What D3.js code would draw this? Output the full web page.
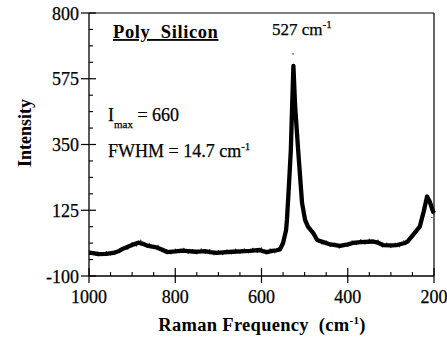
<!DOCTYPE html>
<html>
<head>
<meta charset="utf-8">
<script src="https://cdn.jsdelivr.net/npm/d3@7"></script>
<style>
  html, body { margin: 0; padding: 0; background: #fff; }
</style>
</head>
<body>
<svg id="chart" width="447" height="339"></svg>
<script>
// Raman shift axis (cm^-1), plotted high to low
const xTicks = [1000, 800, 600, 400, 200];
const yTicks = [-100, 125, 350, 575, 800];

// Smoothed spectrum (thick trace)
const fitShift = [1000, 990, 979, 960, 940, 930, 923, 910, 900, 886, 875, 863, 850, 840, 830, 819,
  800, 784, 770, 754, 740, 731, 720, 703, 690, 666, 650, 627, 615, 604, 595, 587, 575, 565, 557,
  550, 543, 541, 536, 532, 529, 526, 522, 515, 510, 506, 499, 492, 480, 471, 457, 440, 418, 400,
  388, 370, 341, 330, 318, 300, 286, 267, 260, 249, 233, 224, 216, 210, 202, 200];
const fitIntensity = [-20, -22, -25, -24, -20, -14, -8, 0, 6, 14, 10, 3, 0, -4, -10, -18,
  -16, -13, -15, -17, -16, -15, -18, -21, -19, -17, -16, -14, -12, -11, -16, -18, -14, -12, -9,
  13, 57, 92, 220, 331, 480, 619, 480, 331, 230, 150, 92, 68, 47, 23, 16, 8, 3, 8,
  13, 16, 18, 14, 6, 5, 6, 13, 20, 40, 69, 120, 172, 155, 120, 115];

// Measured counts (fine points)
const rawShift = [1000, 990, 980, 970, 960, 950, 940, 930, 920, 910, 900, 890, 880, 870, 860, 850,
  840, 830, 820, 810, 800, 790, 780, 770, 760, 750, 740, 730, 720, 710, 700, 690, 680, 670, 660,
  650, 640, 630, 620, 610, 600, 590, 580, 570, 560, 550, 545, 540, 535, 530, 527, 524, 520, 515,
  510, 505, 500, 495, 490, 480, 470, 460, 450, 440, 430, 420, 410, 400, 390, 380, 370, 360, 350,
  340, 330, 320, 310, 300, 290, 280, 270, 260, 250, 240, 230, 220, 215, 210, 205, 200];
const rawIntensity = [-14, -26, -18, -28, -17, -27, -15, -20, -2, -8, 14, 3, 22, 4, 10, -6,
  4, -16, -10, -24, -9, -20, -6, -22, -10, -24, -8, -22, -10, -27, -14, -26, -11, -24, -9,
  -22, -8, -20, -6, -19, -4, -24, -8, -20, -4, 18, 40, 110, 250, 430, 660, 560, 420, 320,
  220, 160, 100, 78, 60, 42, 30, 10, 20, 2, 12, -4, 10, 2, 20, 8, 24, 10, 26,
  12, 22, 0, 12, -2, 12, 0, 20, 14, 44, 52, 80, 150, 160, 140, 100, 110];

const FONT = "'Liberation Serif', 'Times New Roman', Times, serif";

const svg = d3.select("#chart").attr("font-family", FONT);
const margin = { left: 89, top: 13, right: 13, bottom: 63 };
const W = 447 - margin.left - margin.right;
const H = 339 - margin.top - margin.bottom;

const x = d3.scaleLinear().domain([1000, 200]).range([0, W]);
const y = d3.scaleLinear().domain([-100, 800]).range([H, 0]);

// Regular-weight text gets a hairline outline so it reads as solidly as the bold titles
const ink = sel => sel.attr("stroke", "#000").attr("stroke-width", 0.25);

const g = svg.append("g").attr("transform", `translate(${margin.left},${margin.top})`);

// Frame: top and right edges
g.append("line").attr("x1", 0).attr("x2", W).attr("y1", 0).attr("y2", 0)
  .attr("stroke", "#000").attr("stroke-width", 1.2);
g.append("line").attr("x1", W).attr("x2", W).attr("y1", 0).attr("y2", H)
  .attr("stroke", "#000").attr("stroke-width", 1.2);

// Left axis: major ticks cross the line, minor ticks point inward
const yMinor = d3.range(-100, 800.01, 56.25).filter(v => !yTicks.some(t => Math.abs(t - v) < 1e-6));
const yAxis = g.append("g");
yAxis.append("line").attr("x1", 0).attr("x2", 0).attr("y1", 0).attr("y2", H)
  .attr("stroke", "#000").attr("stroke-width", 1.3);
yAxis.selectAll("line.major").data(yTicks).join("line").attr("class", "major")
  .attr("x1", -8).attr("x2", 7).attr("y1", d => y(d)).attr("y2", d => y(d))
  .attr("stroke", "#000").attr("stroke-width", 1.2);
yAxis.selectAll("line.minor").data(yMinor).join("line").attr("class", "minor")
  .attr("x1", 0).attr("x2", 4).attr("y1", d => y(d)).attr("y2", d => y(d))
  .attr("stroke", "#000").attr("stroke-width", 1.1);
yAxis.selectAll("text").data(yTicks).join("text")
  .attr("font-family", FONT)
  .attr("x", -10).attr("y", d => y(d) + 6.5)
  .attr("text-anchor", "end").attr("font-size", 18)
  .call(ink)
  .text(d => d);

// Bottom axis
const xMinor = d3.range(200, 1000.01, 50).filter(v => !xTicks.includes(v));
const xAxis = g.append("g").attr("transform", `translate(0,${H})`);
xAxis.append("line").attr("x1", 0).attr("x2", W).attr("y1", 0).attr("y2", 0)
  .attr("stroke", "#000").attr("stroke-width", 1.3);
xAxis.selectAll("line.major").data(xTicks).join("line").attr("class", "major")
  .attr("x1", d => x(d)).attr("x2", d => x(d)).attr("y1", -8).attr("y2", 7)
  .attr("stroke", "#000").attr("stroke-width", 1.2);
xAxis.selectAll("line.minor").data(xMinor).join("line").attr("class", "minor")
  .attr("x1", d => x(d)).attr("x2", d => x(d)).attr("y1", 0).attr("y2", -4)
  .attr("stroke", "#000").attr("stroke-width", 1.1);
xAxis.selectAll("text").data(xTicks).join("text")
  .attr("font-family", FONT)
  .attr("x", d => x(d)).attr("y", 27)
  .attr("text-anchor", "middle").attr("font-size", 18)
  .call(ink)
  .text(d => d);

// Raw counts as fine specks
g.append("g").selectAll("circle").data(rawShift.map((s, i) => [s, rawIntensity[i]])).join("circle")
  .attr("cx", d => x(d[0])).attr("cy", d => y(d[1])).attr("r", 0.8)
  .attr("fill", "#444");

// Smoothed spectrum
const line = d3.line().x(d => x(d[0])).y(d => y(d[1]));
g.append("path")
  .datum(fitShift.map((s, i) => [s, fitIntensity[i]]))
  .attr("d", line).attr("fill", "none")
  .attr("stroke", "#000").attr("stroke-width", 4.3).attr("stroke-linejoin", "round");

// Axis titles
svg.append("text").attr("font-family", FONT)
  .attr("transform", "translate(31,133) rotate(-90)")
  .attr("text-anchor", "middle").attr("font-size", 18).attr("font-weight", "bold")
  .text("Intensity");

const xt = svg.append("text").attr("font-family", FONT).attr("x", 262).attr("y", 331)
  .attr("text-anchor", "middle").attr("font-size", 18.5).attr("font-weight", "bold")
  .attr("letter-spacing", 0.3);
xt.append("tspan").text("Raman Frequency\u00a0\u00a0(cm");
xt.append("tspan").attr("font-size", 11).attr("dy", -7).text("-1");
xt.append("tspan").attr("dy", 7).text(")");

// Annotations
svg.append("text").attr("font-family", FONT).attr("x", 113).attr("y", 38)
  .attr("font-size", 18.5).attr("font-weight", "bold")
  .attr("letter-spacing", 0.6)
  .attr("text-decoration", "underline")
  .text("Poly\u00a0\u00a0Silicon");

const im = svg.append("text").attr("font-family", FONT).attr("x", 108).attr("y", 121)
  .attr("font-size", 18).call(ink);
im.append("tspan").text("I");
im.append("tspan").attr("font-size", 11).attr("dy", 7).text("max");
im.append("tspan").attr("dy", -7).text(" = 660");

const fw = svg.append("text").attr("font-family", FONT).attr("x", 108).attr("y", 157)
  .attr("font-size", 18).call(ink);
fw.append("tspan").text("FWHM = 14.7 cm");
fw.append("tspan").attr("font-size", 11).attr("dy", -7).text("-1");

const pk = svg.append("text").attr("font-family", FONT).attr("x", 272).attr("y", 35)
  .attr("font-size", 17).call(ink);
pk.append("tspan").text("527 cm");
pk.append("tspan").attr("font-size", 11).attr("dy", -7).text("-1");
</script>
</body>
</html>
